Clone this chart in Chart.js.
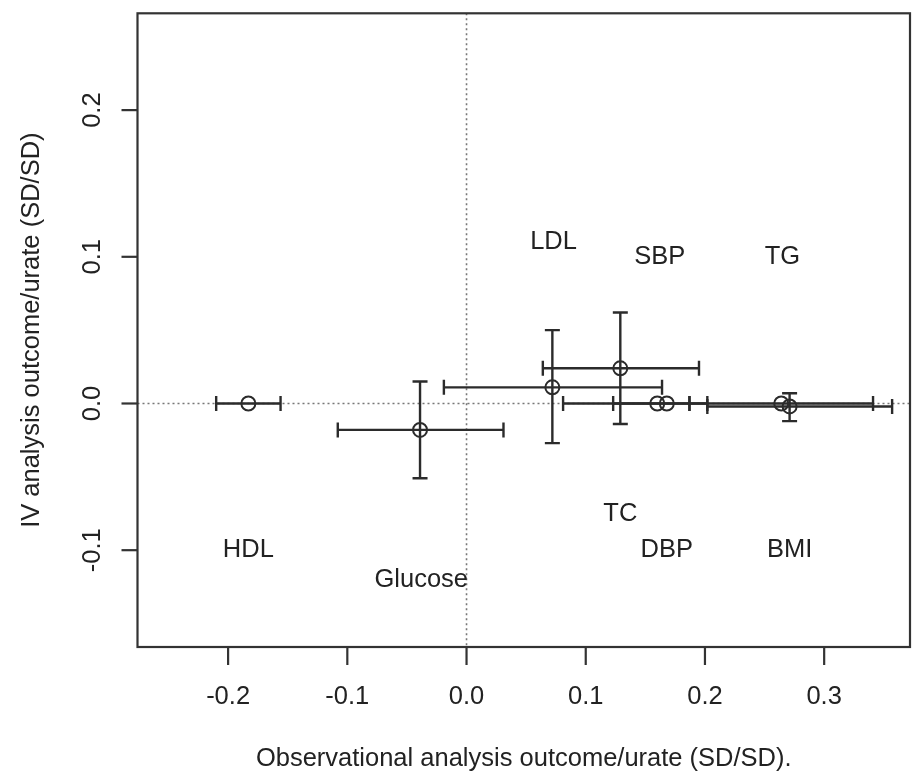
<!DOCTYPE html>
<html>
<head>
<meta charset="utf-8">
<script src="https://cdn.jsdelivr.net/npm/chart.js@4.4.0/dist/chart.umd.min.js"></script>
<style>
  body { margin: 0; background: #fff; }
  #wrap { width: 919px; height: 784px; }
</style>
</head>
<body>
<div id="wrap"><canvas id="ivPlot" width="919" height="784"></canvas></div>
<script>
// traits and estimates
var traits = ['HDL', 'Glucose', 'LDL', 'TC', 'SBP', 'DBP', 'TG', 'BMI'];
var obsEst = [-0.183, -0.039, 0.072, 0.129, 0.160, 0.168, 0.264, 0.271];
var obsLo  = [-0.210, -0.108, -0.019, 0.064, 0.081, 0.123, 0.187, 0.202];
var obsHi  = [-0.156, 0.031, 0.164, 0.195, 0.202, 0.187, 0.341, 0.357];
var ivEst  = [0.000, -0.018, 0.011, 0.024, 0.000, 0.000, 0.000, -0.002];
var ivLo   = [0.000, -0.051, -0.027, -0.014, 0.000, 0.000, 0.000, -0.012];
var ivHi   = [0.000, 0.015, 0.050, 0.062, 0.000, 0.000, 0.000, 0.007];
// where the trait names are written
var labelX = [-0.183, -0.038, 0.073, 0.129, 0.162, 0.168, 0.265, 0.271];
var labelY = [-0.100, -0.120, 0.110, -0.075, 0.100, -0.100, 0.100, -0.100];
var xTicks = [-0.2, -0.1, 0.0, 0.1, 0.2, 0.3];
var yTicks = [-0.1, 0.0, 0.1, 0.2];

var FONT = '25.5px "Liberation Sans", Arial, sans-serif';
var INK = '#222';

var points = obsEst.map(function(x, i) { return { x: x, y: ivEst[i] }; });

// R style frame, axes, reference lines, error bars and text
var rPlot = {
  id: 'rPlot',
  beforeDatasetsDraw: function(chart) {
    var c = chart.ctx, a = chart.chartArea;
    var xs = chart.scales.x, ys = chart.scales.y;
    c.save();
    // dotted zero lines
    c.strokeStyle = '#777';
    c.lineWidth = 1.6;
    c.setLineDash([2, 3]);
    var x0 = xs.getPixelForValue(0), y0 = ys.getPixelForValue(0);
    c.beginPath();
    c.moveTo(x0, a.top); c.lineTo(x0, a.bottom);
    c.moveTo(a.left, y0); c.lineTo(a.right, y0);
    c.stroke();
    c.setLineDash([]);

    // error bars
    c.strokeStyle = '#2b2b2b';
    c.lineWidth = 2.4;
    var cap = 7.5;
    for (var i = 0; i < traits.length; i++) {
      var px = xs.getPixelForValue(obsEst[i]), py = ys.getPixelForValue(ivEst[i]);
      var xl = xs.getPixelForValue(obsLo[i]), xh = xs.getPixelForValue(obsHi[i]);
      c.beginPath();
      c.moveTo(xl, py); c.lineTo(xh, py);
      c.moveTo(xl, py - cap); c.lineTo(xl, py + cap);
      c.moveTo(xh, py - cap); c.lineTo(xh, py + cap);
      c.stroke();
      if (ivHi[i] - ivLo[i] > 0.001) {
        var yl = ys.getPixelForValue(ivLo[i]), yh = ys.getPixelForValue(ivHi[i]);
        c.beginPath();
        c.moveTo(px, yl); c.lineTo(px, yh);
        c.moveTo(px - cap, yl); c.lineTo(px + cap, yl);
        c.moveTo(px - cap, yh); c.lineTo(px + cap, yh);
        c.stroke();
      }
    }
    c.restore();
  },
  afterDraw: function(chart) {
    var c = chart.ctx, a = chart.chartArea;
    var xs = chart.scales.x, ys = chart.scales.y;
    c.save();
    c.strokeStyle = '#333';
    c.lineWidth = 2.2;
    c.strokeRect(a.left, a.top, a.right - a.left, a.bottom - a.top);

    c.fillStyle = INK;
    c.font = FONT;
    c.textAlign = 'center';
    c.textBaseline = 'middle';

    // x axis
    xTicks.forEach(function(t) {
      var p = xs.getPixelForValue(t);
      c.beginPath(); c.moveTo(p, a.bottom); c.lineTo(p, a.bottom + 18); c.stroke();
      c.fillText(t.toFixed(1), p, a.bottom + 50);
    });
    c.fillText('Observational analysis outcome/urate (SD/SD).', (a.left + a.right) / 2, a.bottom + 112);

    // y axis, labels turned like R does
    yTicks.forEach(function(t) {
      var p = ys.getPixelForValue(t);
      c.beginPath(); c.moveTo(a.left, p); c.lineTo(a.left - 16, p); c.stroke();
      c.save();
      c.translate(a.left - 45, p);
      c.rotate(-Math.PI / 2);
      c.fillText(t.toFixed(1), 0, 0);
      c.restore();
    });
    c.save();
    c.translate(32, (a.top + a.bottom) / 2);
    c.rotate(-Math.PI / 2);
    c.fillText('IV analysis outcome/urate (SD/SD)', 0, 0);
    c.restore();

    // trait names
    for (var i = 0; i < traits.length; i++) {
      c.fillText(traits[i], xs.getPixelForValue(labelX[i]), ys.getPixelForValue(labelY[i]));
    }
    c.restore();
  }
};

new Chart('ivPlot', {
  type: 'scatter',
  data: {
    datasets: [{
      data: points,
      pointStyle: 'circle',
      pointRadius: 7,
      pointHoverRadius: 7,
      pointBorderWidth: 2,
      pointBorderColor: '#2b2b2b',
      pointBackgroundColor: 'rgba(0,0,0,0)'
    }]
  },
  options: {
    responsive: false,
    animation: false,
    layout: { padding: { left: 137.5, top: 13.3, right: 6, bottom: 137 } },
    plugins: { legend: { display: false }, tooltip: { enabled: false } },
    scales: {
      x: { type: 'linear', min: -0.276, max: 0.372, display: false },
      y: { type: 'linear', min: -0.166, max: 0.266, display: false }
    }
  },
  plugins: [rPlot]
});
</script>
</body>
</html>
